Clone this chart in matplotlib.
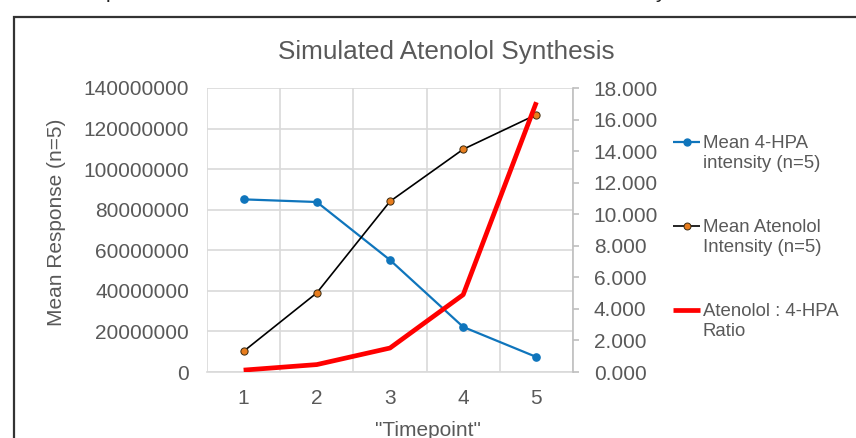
import matplotlib
matplotlib.use("Agg")
import matplotlib.pyplot as plt
from matplotlib.lines import Line2D
from matplotlib.patches import Rectangle
from matplotlib.ticker import FormatStrFormatter, FixedLocator

plt.rcParams['font.family'] = ['Liberation Sans', 'DejaVu Sans']

timepoints = [1, 2, 3, 4, 5]
hpa_mean = [85.1e6, 83.8e6, 55.2e6, 22.2e6, 7.4e6]
atenolol_mean = [10.2e6, 39.0e6, 84.1e6, 109.8e6, 126.9e6]
ratio = [0.12, 0.47, 1.52, 4.90, 17.10]

labels = ["Mean 4-HPA\nintensity (n=5)",
          "Mean Atenolol\nIntensity (n=5)",
          "Atenolol : 4-HPA\nRatio"]

W, H = 856, 438
txt = '#595959'
grid = '#d9d9d9'
blue = '#0f75bc'
orange = '#e87d1e'
red = '#ff0000'

fig = plt.figure(figsize=(W / 100, H / 100), dpi=100)

def fx(px):
    return px / W

def fy(py):
    return 1 - py / H

# chart frame (cut off at right/bottom in the screenshot)
fig.add_artist(Rectangle((fx(14), fy(460)), fx(900), (460 - 17) / H, transform=fig.transFigure,
                         fill=False, edgecolor='#333333', linewidth=1.6))

# fragments of text above the chart
fig.text(fx(111), fy(-2), "p", fontsize=15, color='#222222', ha='center', va='baseline')
fig.text(fx(660), fy(-2), "y", fontsize=15, color='#222222', ha='center', va='baseline')

ax = fig.add_axes([fx(207), fy(372), fx(573) - fx(207), fy(88) - fy(372)])
ax2 = ax.twinx()

ax.plot(timepoints, hpa_mean, color=blue, lw=1.6, marker='o', ms=5.2,
        mfc=blue, mec=blue, zorder=3)
ax.plot(timepoints, atenolol_mean, color='black', lw=1.2, marker='o', ms=5.2,
        mfc=orange, mec='#3a2a10', mew=0.7, zorder=3)
ax2.plot(timepoints, ratio, color=red, lw=3.4, solid_capstyle='butt', zorder=3)

ax.set_xlim(0.5, 5.5)
ax.set_ylim(0, 140e6)
ax2.set_ylim(0, 18)
ax.set_yticks([i * 20e6 for i in range(8)])
ax.yaxis.set_major_formatter(FormatStrFormatter('%d'))
ax2.set_yticks(range(0, 19, 2))
ax2.yaxis.set_major_formatter(FormatStrFormatter('%.3f'))
ax.set_xticks(timepoints)
ax.xaxis.set_minor_locator(FixedLocator([0.5, 1.5, 2.5, 3.5, 4.5, 5.5]))

ax.grid(True, axis='y', color=grid, lw=1.2)
ax.grid(True, axis='x', which='minor', color=grid, lw=1.2)
ax.set_axisbelow(True)

for a in (ax, ax2):
    for s in a.spines.values():
        s.set_visible(False)
ax.spines['bottom'].set_visible(True)
ax.spines['bottom'].set_color(grid)
ax.spines['bottom'].set_linewidth(1.2)
ax2.spines['right'].set_visible(True)
ax2.spines['right'].set_color('#bfbfbf')
ax2.spines['right'].set_linewidth(1.2)

ax.tick_params(axis='y', length=0, pad=13, labelsize=15, labelcolor=txt)
ax.tick_params(axis='x', which='both', length=0, pad=12, labelsize=15, labelcolor=txt)
ax2.tick_params(axis='y', length=4, width=1.2, color='#bfbfbf', pad=11,
                labelsize=15, labelcolor=txt)

fig.text(fx(446), fy(52), "Simulated Atenolol Synthesis", fontsize=18.8, color=txt,
         ha='center', va='center')
fig.text(fx(57), fy(222), "Mean Response (n=5)", fontsize=15, color=txt,
         rotation=90, ha='center', va='center')
fig.text(fx(428), fy(431), '"Timepoint"', fontsize=15, color=txt,
         ha='center', va='center')

# legend drawn at the right
leg_y = [142, 226, 310]
line_st = [dict(color=blue, lw=1.6), dict(color='black', lw=1.2), dict(color=red, lw=3.4)]
mark_st = [dict(marker='o', ms=5, mfc=blue, mec=blue),
           dict(marker='o', ms=5, mfc=orange, mec='#3a2a10', mew=0.7),
           None]
for y, lab, ls, ms in zip(leg_y, labels, line_st, mark_st):
    fig.add_artist(Line2D([fx(673), fx(700)], [fy(y), fy(y)], transform=fig.transFigure,
                          solid_capstyle='butt', **ls))
    if ms is not None:
        fig.add_artist(Line2D([fx(686.5)], [fy(y)], transform=fig.transFigure,
                              linestyle='None', **ms))
    fig.text(fx(703), fy(y - 7), lab, fontsize=13.4, color=txt, ha='left', va='top',
             linespacing=1.2)

fig.savefig("out.png", dpi=100)
